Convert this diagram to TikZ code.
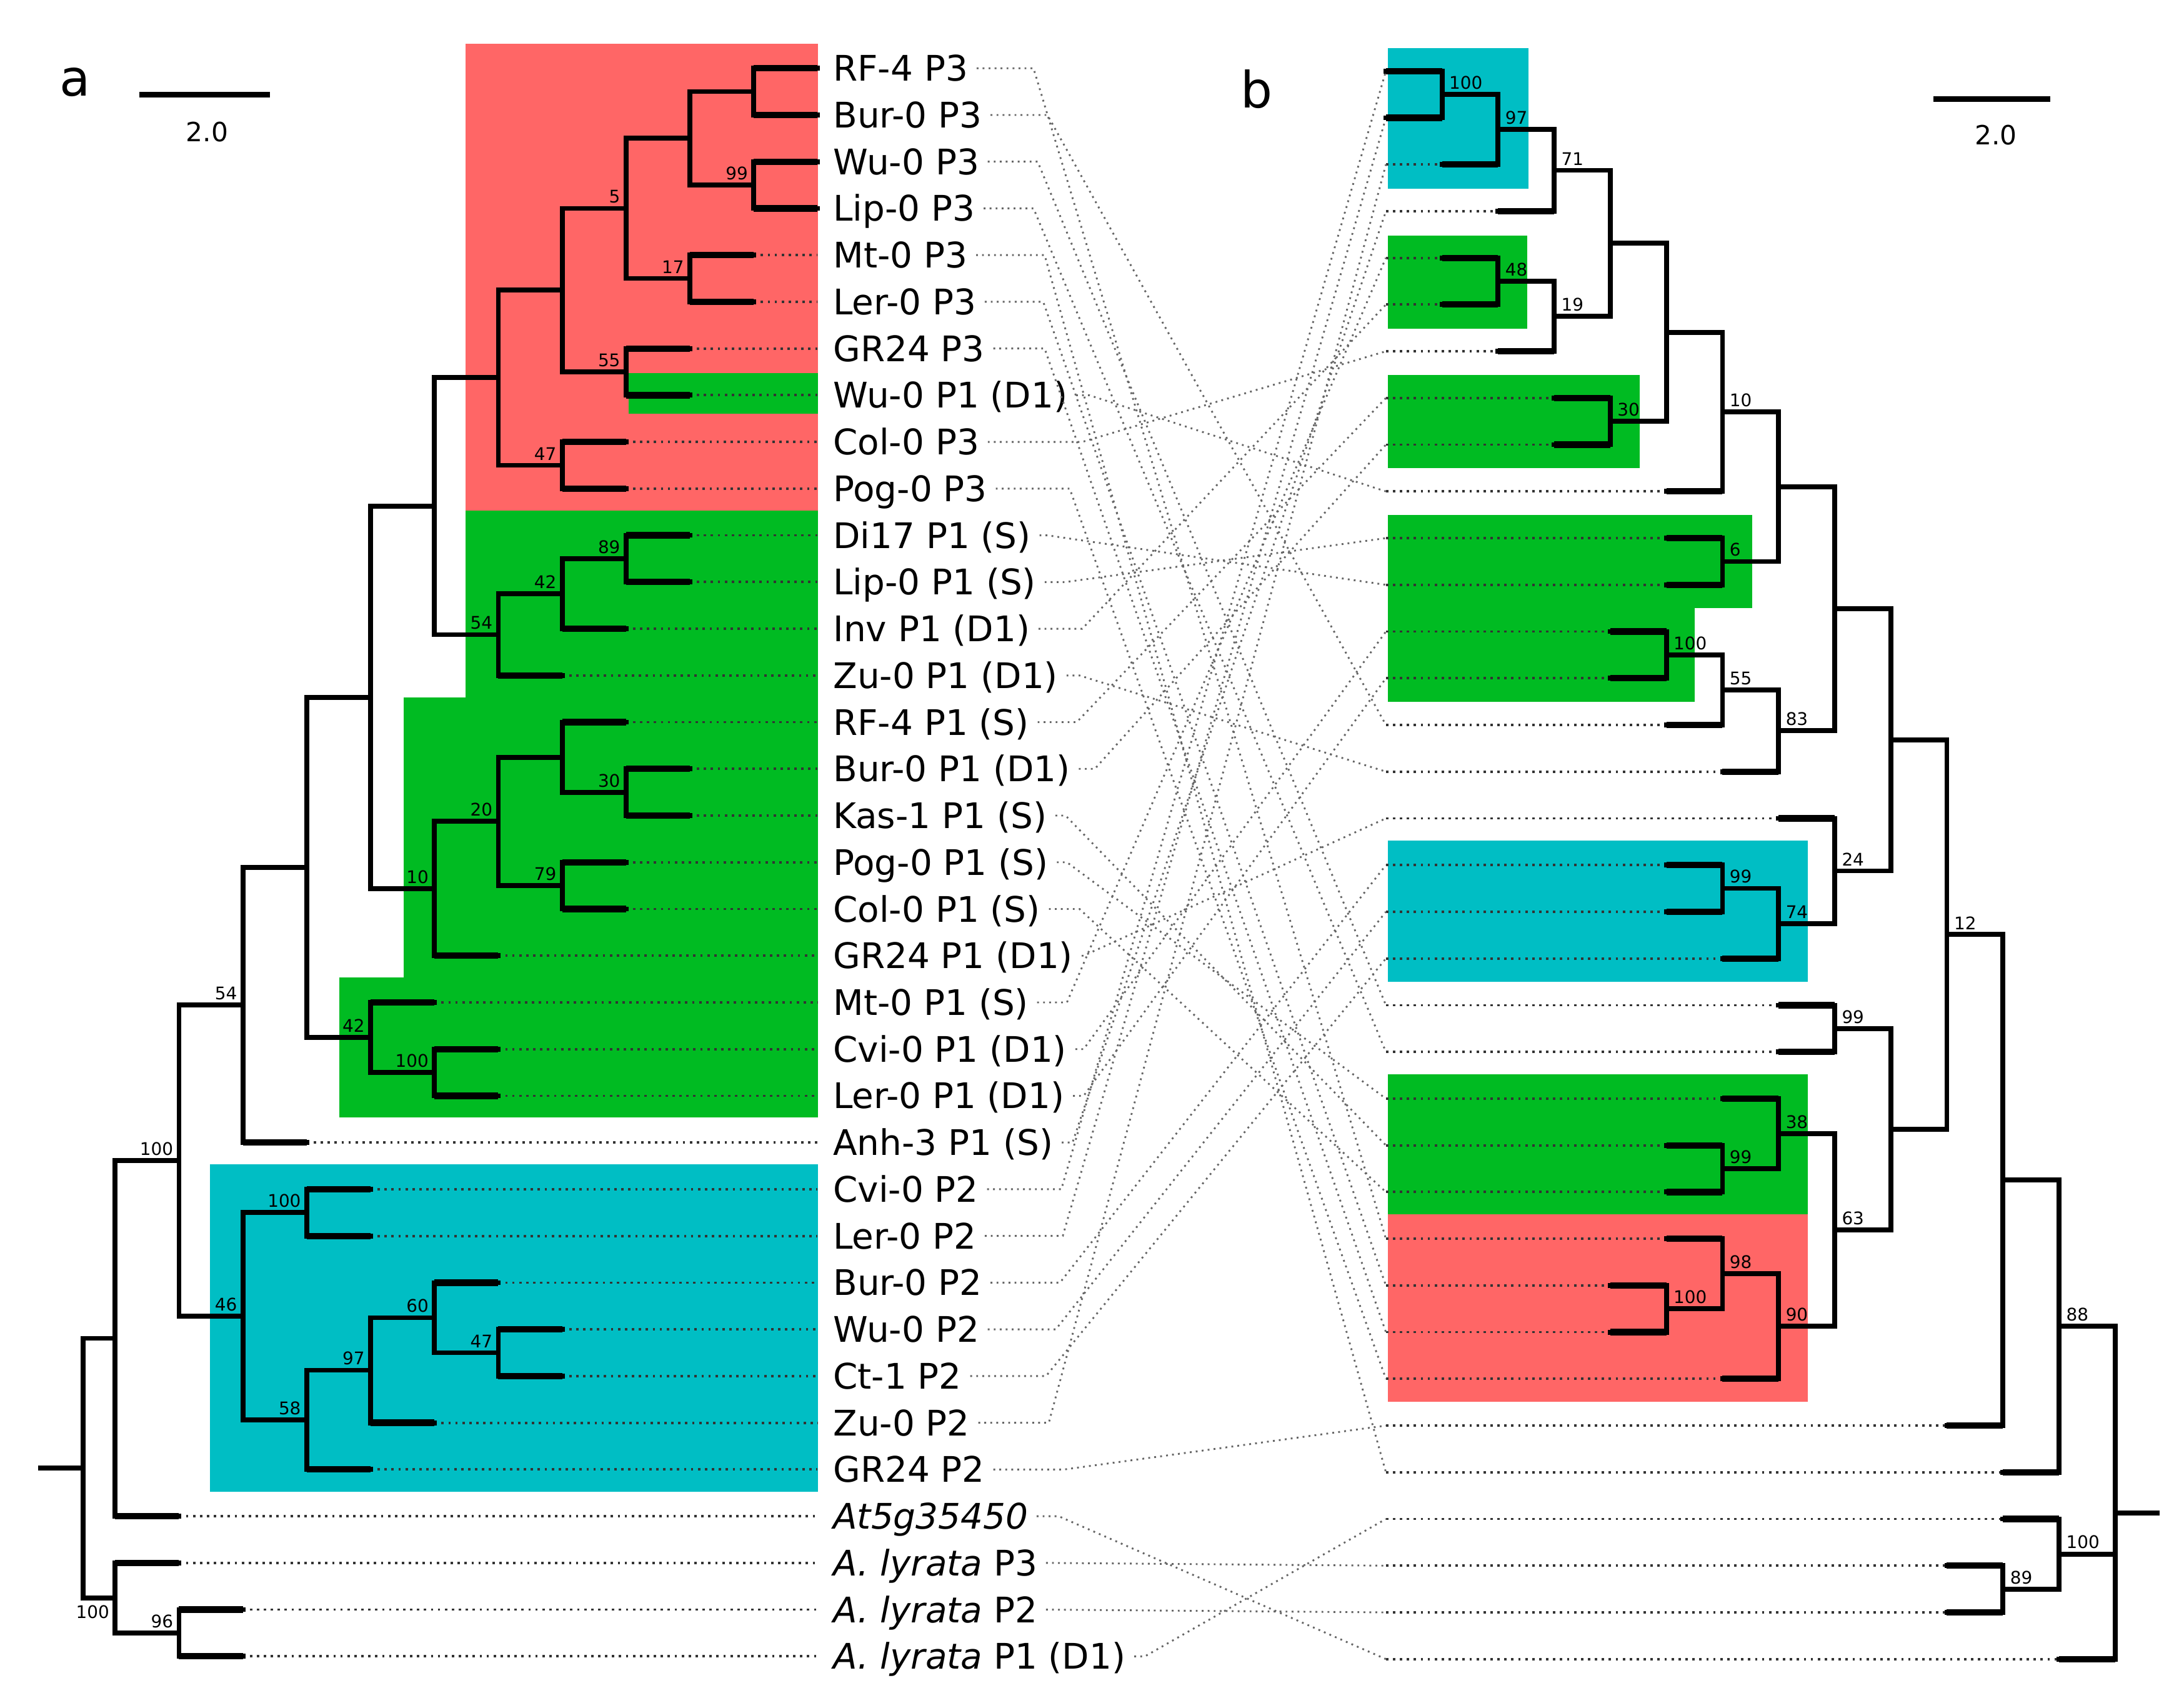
\documentclass[tikz,border=0pt]{standalone}
\usepackage{fontspec}
\setmainfont{DejaVu Sans}
\definecolor{cred}{RGB}{255,102,102}
\definecolor{cgreen}{RGB}{0,187,34}
\definecolor{cblue}{RGB}{0,190,196}
\newcommand\SupFont{\fontsize{12.5}{14}\selectfont}
\newcommand\LeafFont{\fontsize{25.3}{30}\selectfont}
\newcommand\TIn[2]{\draw[br] (#1) |- (#2);}
\newcommand\TTip[2]{\draw[br] (#1) |- (#2); \draw[tm] (#1 |- #2) -- (#2);}
\newcommand\LS[2]{\node[lsl] (sl-#1) at (#1) {#2};}
\newcommand\RSu[2]{\node[rsl] (sr-#1) at (#1) {#2};}
\begin{document}
\begin{tikzpicture}[x=1pt,y=-1pt,
 declare function={lx(\h)=587-45.85*\h; ly(\k)=49+33.53*\k; rx(\h)=995+40.27*\h; ry(\k)=51+33.53*\k;},
 br/.style={line width=3.5pt,line cap=rect,line join=miter},
 tm/.style={line width=4.6pt,line cap=butt},
 tdot/.style={line width=1.7pt,dash pattern=on 1.7pt off 3.3pt,black!80},
 cross/.style={line width=1.3pt,dash pattern=on 1.3pt off 3pt,black!60},
 lab/.style={font=\LeafFont,anchor=west,inner sep=0pt,text height=18.4pt,text depth=0pt},
 lsl/.style={font=\SupFont,anchor=south east,inner sep=0pt,xshift=-4pt,yshift=3.5pt},
 rsl/.style={font=\SupFont,anchor=south west,inner sep=0pt,xshift=5pt,yshift=3.5pt}]
\useasboundingbox (0,0) rectangle (1568,1226);
% ---------- coloured boxes ----------
\fill[cred]   (334.2,31.6) rectangle (587.3,366.7);
\fill[cgreen] (451.3,268) rectangle (587.3,297);
\fill[cgreen] (334.2,366.7) rectangle (587.3,500.6);
\fill[cgreen] (289.8,500.6) rectangle (587.3,701.5);
\fill[cgreen] (243.4,701.5) rectangle (587.3,802.2);
\fill[cblue]  (150.7,835.7) rectangle (587.3,1071.1);
\fill[cblue]  (996.5,34.6) rectangle (1097.3,135.7);
\fill[cgreen] (996.5,169.3) rectangle (1096.6,235.8);
\fill[cgreen] (996.5,269.1) rectangle (1177,336);
\fill[cgreen] (996.5,369.8) rectangle (1257.8,436.7);
\fill[cgreen] (996.5,436.7) rectangle (1216.6,503.7);
\fill[cblue]  (996.5,603.6) rectangle (1297.8,704.8);
\fill[cgreen] (996.5,771.2) rectangle (1297.8,871.9);
\fill[cred]   (996.5,871.9) rectangle (1297.8,1006.1);
% ---------- leaf coordinates ----------
\foreach \i/\h in {0/0,1/0,2/0,3/0,4/1,5/1,6/2,7/2,8/3,9/3,10/2,11/2,12/3,13/4,14/3,15/2,16/2,17/3,18/3,19/5,20/6,21/5,22/5,23/8,24/7,25/7,26/5,27/4,28/4,29/6,30/7,31/10,32/10,33/9,34/9}
  {\coordinate (lt\i) at ({lx(\h)},{ly(\i)}); \coordinate (le\i) at ({lx(0)},{ly(\i)});}
\foreach \j/\h in {0/0,1/0,2/1,3/2,4/1,5/1,6/2,7/3,8/3,9/5,10/5,11/5,12/4,13/4,14/5,15/6,16/7,17/5,18/5,19/6,20/7,21/7,22/6,23/5,24/5,25/5,26/4,27/4,28/6,29/10,30/11,31/11,32/10,33/10,34/12}
  {\coordinate (rt\j) at ({rx(\h)},{ry(\j)}); \coordinate (rs\j) at ({rx(0)},{ry(\j)});}
% ---------- dotted leaf extensions ----------
\foreach \i in {4,...,34} \draw[tdot] (lt\i) -- (le\i);
\foreach \j in {2,...,34} \draw[tdot] (rs\j) -- (rt\j);
% ---------- leaf labels ----------
\foreach \i/\t in {0/RF-4 P3,1/Bur-0 P3,2/Wu-0 P3,3/Lip-0 P3,4/Mt-0 P3,5/Ler-0 P3,6/GR24 P3,7/Wu-0 P1 (D1),8/Col-0 P3,9/Pog-0 P3,10/Di17 P1 (S),11/Lip-0 P1 (S),12/Inv P1 (D1),13/Zu-0 P1 (D1),14/RF-4 P1 (S),15/Bur-0 P1 (D1),16/Kas-1 P1 (S),17/Pog-0 P1 (S),18/Col-0 P1 (S),19/GR24 P1 (D1),20/Mt-0 P1 (S),21/Cvi-0 P1 (D1),22/Ler-0 P1 (D1),23/Anh-3 P1 (S),24/Cvi-0 P2,25/Ler-0 P2,26/Bur-0 P2,27/Wu-0 P2,28/Ct-1 P2,29/Zu-0 P2,30/GR24 P2,31/\textit{At5g35450},32/\textit{A. lyrata} P3,33/\textit{A. lyrata} P2,34/\textit{A. lyrata} P1 (D1)}
  \node[lab] (la\i) at (598,{ly(\i)}) {\t};
% ---------- connecting lines ----------
\foreach \i/\j/\xa in {0/25/742,1/14/752,2/20/745,3/21/742,4/30/750,5/26/749,6/27/750,7/9/782,8/6/777,9/28/768,10/11/752,11/10/765,12/5/777,13/15/775,14/7/773,15/8/786,16/23/765,17/22/766,18/24/775,19/16/778,20/4/766,21/12/778,22/13/778,23/3/770,24/0/762,25/1/763,26/17/761,27/18/758,28/19/751,29/2/753,30/29/764,31/34/760,32/32/752,33/33/752,34/31/822}
  \draw[cross] ([xshift=6pt]la\i.east) -- (la\i.east -| \xa,0) -- (rs\j);
% ---------- left tree ----------
\coordinate (A1) at ({lx(1)},{ly(0.5)});
\coordinate (A2) at ({lx(1)},{ly(2.5)});
\coordinate (A3) at ({lx(2)},{ly(1.5)});
\coordinate (A4) at ({lx(2)},{ly(4.5)});
\coordinate (A5) at ({lx(3)},{ly(3)});
\coordinate (A6) at ({lx(3)},{ly(6.5)});
\coordinate (A7) at ({lx(4)},{ly(4.75)});
\coordinate (A8) at ({lx(4)},{ly(8.5)});
\coordinate (A9) at ({lx(5)},{ly(6.625)});
\coordinate (B1) at ({lx(3)},{ly(10.5)});
\coordinate (B2) at ({lx(4)},{ly(11.25)});
\coordinate (B3) at ({lx(5)},{ly(12.125)});
\coordinate (C0) at ({lx(6)},{ly(9.375)});
\coordinate (B4) at ({lx(3)},{ly(15.5)});
\coordinate (B5) at ({lx(4)},{ly(14.75)});
\coordinate (B6) at ({lx(4)},{ly(17.5)});
\coordinate (B7) at ({lx(5)},{ly(16.125)});
\coordinate (B8) at ({lx(6)},{ly(17.5625)});
\coordinate (C1) at ({lx(7)},{ly(13.46875)});
\coordinate (B9) at ({lx(6)},{ly(21.5)});
\coordinate (B10) at ({lx(7)},{ly(20.75)});
\coordinate (C2) at ({lx(8)},{ly(17.109375)});
\coordinate (C3) at ({lx(9)},{ly(20.0546875)});
\coordinate (D1) at ({lx(8)},{ly(24.5)});
\coordinate (D2) at ({lx(5)},{ly(27.5)});
\coordinate (D3) at ({lx(6)},{ly(26.75)});
\coordinate (D4) at ({lx(7)},{ly(27.875)});
\coordinate (D5) at ({lx(8)},{ly(28.9375)});
\coordinate (D6) at ({lx(9)},{ly(26.71875)});
\coordinate (C4) at ({lx(10)},{ly(23.38671875)});
\coordinate (C5) at ({lx(11)},{ly(27.193359375)});
\coordinate (E1) at ({lx(10)},{ly(33.5)});
\coordinate (E2) at ({lx(11)},{ly(32.75)});
\coordinate (LR) at ({lx(11.5)},{ly(29.9716796875)});
\coordinate (LS) at (29,{ly(29.9716796875)});
\TTip{A1}{lt0}\TTip{A1}{lt1}\TTip{A2}{lt2}\TTip{A2}{lt3}
\TIn{A3}{A1}\TIn{A3}{A2}\TTip{A4}{lt4}\TTip{A4}{lt5}
\TIn{A5}{A3}\TIn{A5}{A4}\TTip{A6}{lt6}\TTip{A6}{lt7}
\TIn{A7}{A5}\TIn{A7}{A6}\TTip{A8}{lt8}\TTip{A8}{lt9}
\TIn{A9}{A7}\TIn{A9}{A8}
\TTip{B1}{lt10}\TTip{B1}{lt11}\TIn{B2}{B1}\TTip{B2}{lt12}
\TIn{B3}{B2}\TTip{B3}{lt13}\TIn{C0}{A9}\TIn{C0}{B3}
\TTip{B4}{lt15}\TTip{B4}{lt16}\TTip{B5}{lt14}\TIn{B5}{B4}
\TTip{B6}{lt17}\TTip{B6}{lt18}\TIn{B7}{B5}\TIn{B7}{B6}
\TIn{B8}{B7}\TTip{B8}{lt19}\TIn{C1}{C0}\TIn{C1}{B8}
\TTip{B9}{lt21}\TTip{B9}{lt22}\TTip{B10}{lt20}\TIn{B10}{B9}
\TIn{C2}{C1}\TIn{C2}{B10}\TIn{C3}{C2}\TTip{C3}{lt23}
\TTip{D1}{lt24}\TTip{D1}{lt25}\TTip{D2}{lt27}\TTip{D2}{lt28}
\TTip{D3}{lt26}\TIn{D3}{D2}\TIn{D4}{D3}\TTip{D4}{lt29}
\TIn{D5}{D4}\TTip{D5}{lt30}\TIn{D6}{D1}\TIn{D6}{D5}
\TIn{C4}{C3}\TIn{C4}{D6}\TIn{C5}{C4}\TTip{C5}{lt31}
\TTip{E1}{lt33}\TTip{E1}{lt34}\TTip{E2}{lt32}\TIn{E2}{E1}
\TIn{LR}{C5}\TIn{LR}{E2}\draw[br] (LS) -- (LR);
% left support values
\LS{A2}{99}\LS{A4}{17}\LS{A5}{5}\LS{A6}{55}\LS{A8}{47}
\LS{B1}{89}\LS{B2}{42}\LS{B3}{54}\LS{B4}{30}\LS{B6}{79}\LS{B7}{20}\LS{B8}{10}
\LS{B9}{100}\LS{B10}{42}\LS{C3}{54}\LS{D1}{100}\LS{D2}{47}\LS{D3}{60}\LS{D4}{97}
\LS{D5}{58}\LS{D6}{46}\LS{C4}{100}\LS{E1}{96}
\node[font=\SupFont,anchor=north east,inner sep=0pt,xshift=-4pt,yshift=-5pt] (sl-E2) at (E2) {100};
% ---------- right tree ----------
\coordinate (Na) at ({rx(1)},{ry(0.5)});
\coordinate (Nb) at ({rx(2)},{ry(1.25)});
\coordinate (Nc) at ({rx(3)},{ry(2.125)});
\coordinate (Nd) at ({rx(2)},{ry(4.5)});
\coordinate (Ne) at ({rx(3)},{ry(5.25)});
\coordinate (Nf) at ({rx(4)},{ry(3.6875)});
\coordinate (Ng) at ({rx(4)},{ry(7.5)});
\coordinate (Nh) at ({rx(5)},{ry(5.59375)});
\coordinate (Ni) at ({rx(6)},{ry(7.296875)});
\coordinate (Nj) at ({rx(6)},{ry(10.5)});
\coordinate (Nk) at ({rx(7)},{ry(8.8984375)});
\coordinate (Nl) at ({rx(5)},{ry(12.5)});
\coordinate (Nm) at ({rx(6)},{ry(13.25)});
\coordinate (Nn) at ({rx(7)},{ry(14.125)});
\coordinate (No) at ({rx(8)},{ry(11.51171875)});
\coordinate (Np) at ({rx(6)},{ry(17.5)});
\coordinate (Nq) at ({rx(7)},{ry(18.25)});
\coordinate (Nr) at ({rx(8)},{ry(17.125)});
\coordinate (Ns) at ({rx(9)},{ry(14.318359375)});
\coordinate (Nt) at ({rx(8)},{ry(20.5)});
\coordinate (Nu) at ({rx(6)},{ry(23.5)});
\coordinate (Nv) at ({rx(7)},{ry(22.75)});
\coordinate (Nw) at ({rx(5)},{ry(26.5)});
\coordinate (Nx) at ({rx(6)},{ry(25.75)});
\coordinate (Ny) at ({rx(7)},{ry(26.875)});
\coordinate (Nz) at ({rx(8)},{ry(24.8125)});
\coordinate (NA) at ({rx(9)},{ry(22.65625)});
\coordinate (NB) at ({rx(10)},{ry(18.4873046875)});
\coordinate (NC) at ({rx(11)},{ry(23.74365234375)});
\coordinate (ND) at ({rx(12)},{ry(26.871826171875)});
\coordinate (NE) at ({rx(11)},{ry(32.5)});
\coordinate (NF) at ({rx(12)},{ry(31.75)});
\coordinate (RR) at ({rx(13)},{ry(30.873942)});
\coordinate (RS) at ({rx(13.75)},{ry(30.873942)});
\TTip{Na}{rt0}\TTip{Na}{rt1}\TIn{Nb}{Na}\TTip{Nb}{rt2}
\TIn{Nc}{Nb}\TTip{Nc}{rt3}\TTip{Nd}{rt4}\TTip{Nd}{rt5}
\TIn{Ne}{Nd}\TTip{Ne}{rt6}\TIn{Nf}{Nc}\TIn{Nf}{Ne}
\TTip{Ng}{rt7}\TTip{Ng}{rt8}\TIn{Nh}{Nf}\TIn{Nh}{Ng}
\TIn{Ni}{Nh}\TTip{Ni}{rt9}\TTip{Nj}{rt10}\TTip{Nj}{rt11}
\TIn{Nk}{Ni}\TIn{Nk}{Nj}\TTip{Nl}{rt12}\TTip{Nl}{rt13}
\TIn{Nm}{Nl}\TTip{Nm}{rt14}\TIn{Nn}{Nm}\TTip{Nn}{rt15}
\TIn{No}{Nk}\TIn{No}{Nn}\TTip{Np}{rt17}\TTip{Np}{rt18}
\TIn{Nq}{Np}\TTip{Nq}{rt19}\TTip{Nr}{rt16}\TIn{Nr}{Nq}
\TIn{Ns}{No}\TIn{Ns}{Nr}\TTip{Nt}{rt20}\TTip{Nt}{rt21}
\TTip{Nu}{rt23}\TTip{Nu}{rt24}\TTip{Nv}{rt22}\TIn{Nv}{Nu}
\TTip{Nw}{rt26}\TTip{Nw}{rt27}\TTip{Nx}{rt25}\TIn{Nx}{Nw}
\TIn{Ny}{Nx}\TTip{Ny}{rt28}\TIn{Nz}{Nv}\TIn{Nz}{Ny}
\TIn{NA}{Nt}\TIn{NA}{Nz}\TIn{NB}{Ns}\TIn{NB}{NA}
\TIn{NC}{NB}\TTip{NC}{rt29}\TIn{ND}{NC}\TTip{ND}{rt30}
\TTip{NE}{rt32}\TTip{NE}{rt33}\TTip{NF}{rt31}\TIn{NF}{NE}
\TIn{RR}{ND}\TIn{RR}{NF}\TTip{RR}{rt34}\draw[br] (RR) -- (RS);
% right support values
\RSu{Na}{100}\RSu{Nb}{97}\RSu{Nc}{71}\RSu{Nd}{48}\RSu{Ne}{19}\RSu{Ng}{30}
\RSu{Ni}{10}\RSu{Nj}{6}\RSu{Nl}{100}\RSu{Nm}{55}\RSu{Nn}{83}\RSu{Np}{99}
\RSu{Nq}{74}\RSu{Nr}{24}\RSu{Nt}{99}\RSu{Nu}{99}\RSu{Nv}{38}\RSu{Nw}{100}
\RSu{Nx}{98}\RSu{Ny}{90}\RSu{Nz}{63}\RSu{NB}{12}\RSu{ND}{88}\RSu{NE}{89}\RSu{NF}{100}
% ---------- panel letters and scale bars ----------
\node[font=\fontsize{36}{40}\selectfont,inner sep=0pt] (pa) at (54,59) {a};
\node[font=\fontsize{36}{40}\selectfont,inner sep=0pt] (pb) at (902,64) {b};
\coordinate (sa1) at (100,68); \coordinate (sa2) at (194,68);
\draw[line width=4pt] (sa1) -- (sa2);
\node[font=\fontsize{19}{22}\selectfont,inner sep=0pt] (sat) at (148.8,94.5) {2.0};
\coordinate (sb1) at (1388,71); \coordinate (sb2) at (1472,71);
\draw[line width=4pt] (sb1) -- (sb2);
\node[font=\fontsize{19}{22}\selectfont,inner sep=0pt] (sbt) at (1433,97) {2.0};
\end{tikzpicture}
\end{document}
